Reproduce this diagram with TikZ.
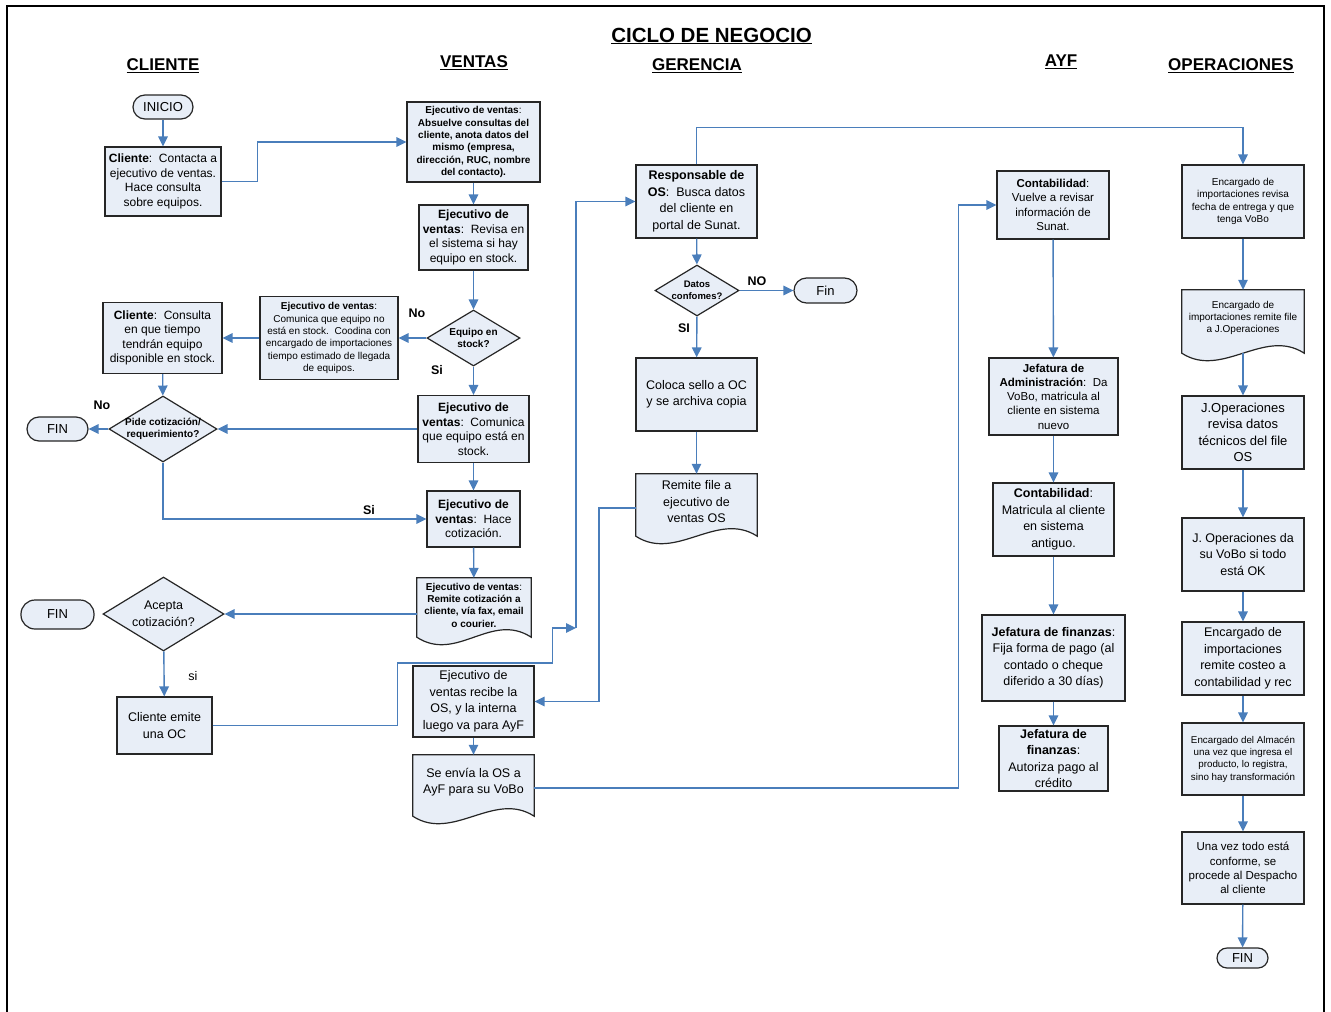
\documentclass[tikz,border=0pt]{standalone}
\usepackage{fontspec}
\setmainfont{Liberation Sans}
\usetikzlibrary{shapes.geometric,arrows.meta,backgrounds}
\definecolor{fillc}{RGB}{232,238,247}
\definecolor{boxc}{RGB}{38,38,38}
\definecolor{arrc}{RGB}{74,126,187}
\tikzset{
  fA/.style={font=\fontsize{12}{14.5}\selectfont},
  fB/.style={font=\fontsize{12.5}{16.5}\selectfont},
  fC/.style={font=\fontsize{11.5}{14.3}\selectfont},
  fS/.style={font=\fontsize{10}{12.3}\selectfont},
  fSb/.style={font=\fontsize{10}{12.3}\selectfont\bfseries},
  sz/.style 2 args={minimum width=#1, minimum height=#2},
  box/.style={draw=boxc, fill=fillc, line width=1.2pt, align=center, inner sep=1pt},
  term/.style={box, rounded corners=#1},
  docn/.style={align=center, inner sep=1pt},
  docline/.style={draw=boxc, fill=fillc, line width=1.2pt},
  dia/.style={draw=boxc, fill=fillc, line width=1.2pt, shape=diamond, inner sep=0pt},
  dtext/.style={align=center, inner sep=0pt},
  conn/.style={draw=arrc, line width=1.4pt, -{Triangle[length=10pt,width=9.5pt]}},
  lbl/.style={font=\fontsize{12.5}{14}\selectfont\bfseries, inner sep=0pt},
  lbl2/.style={font=\fontsize{12.5}{14}\selectfont, inner sep=0pt},
  head/.style={font=\fontsize{17}{20}\selectfont\bfseries, inner sep=0pt}
}
\begin{document}
\begin{tikzpicture}[x=1pt,y=-1pt]
\useasboundingbox (0,0) rectangle (1331,1012);
\begin{pgfonlayer}{background}
\fill[white] (0,0) rectangle (1331,1012);
\end{pgfonlayer}
\draw[line width=2.5pt, black] (7,1012) -- (7,6) -- (1324,6) -- (1324,1012);

% titles
\node[font=\fontsize{20.5}{24}\selectfont\bfseries, inner sep=0pt] (title) at (711.5,36) {\underline{CICLO DE NEGOCIO}};
\node[head] (hcli) at (163,66) {\underline{CLIENTE}};
\node[head] (hven) at (474,63) {\underline{VENTAS}};
\node[head] (hger) at (697,66) {\underline{GERENCIA}};
\node[head] (hayf) at (1061,62) {\underline{AYF}};
\node[head] (hops) at (1231,66) {\underline{OPERACIONES}};

% CLIENTE / VENTAS
\node[term=12pt, sz={60}{24}, font=\fontsize{13}{15}\selectfont] (inicio) at (163,107) {INICIO};
\node[box, sz={116}{69}, fA] (c1) at (163,181.5) {\textbf{Cliente}:\ \ Contacta a\\ejecutivo de ventas.\\Hace consulta\\sobre equipos.};
\node[box, sz={133}{80}, fS] (absuelve) at (473.5,142) {\textbf{Ejecutivo de ventas}:\\\textbf{Absuelve consultas del}\\\textbf{cliente, anota datos del}\\\textbf{mismo (empresa,}\\\textbf{dirección, RUC, nombre}\\\textbf{del contacto).}};
\node[box, sz={109}{65}, fA] (revisa) at (473.5,237.5) {\textbf{Ejecutivo de}\\\textbf{ventas}:\ \ Revisa en\\el sistema si hay\\equipo en stock.};
\node[dia, sz={93}{56}] (dEq) at (473.5,338) {};
\node[dtext, fSb] (dEqT) at (dEq.center) {Equipo en\\stock?};
\node[box, sz={138}{83}, fS] (nostock) at (329,338) {\textbf{Ejecutivo de ventas}:\\Comunica que equipo no\\está en stock.\ \ Coodina con\\encargado de importaciones\\tiempo estimado de llegada\\de equipos.};
\node[box, sz={119}{71}, fA] (consulta) at (162.5,338) {\textbf{Cliente}:\ \ Consulta\\en que tiempo\\tendrán equipo\\disponible en stock.};
\node[dia, sz={108}{66}] (dPide) at (163,429) {};
\node[dtext, fSb] (dPideT) at (dPide.center) {Pide cotización/\\requerimiento?};
\node[term=12pt, sz={61}{24}, font=\fontsize{13}{15}\selectfont] (fin1) at (57.5,429) {FIN};
\node[box, sz={111}{67}, fA] (enstock) at (473.5,429) {\textbf{Ejecutivo de}\\\textbf{ventas}:\ \ Comunica\\que equipo está en\\stock.};
\node[box, sz={93}{56}, fA] (hace) at (473.5,519) {\textbf{Ejecutivo de}\\\textbf{ventas}:\ \ Hace\\cotización.};
\node[docn, sz={114}{54}, fS] (remcot) at (474,605) {\textbf{Ejecutivo de ventas}:\\\textbf{Remite cotización a}\\\textbf{cliente, vía fax, email}\\\textbf{o courier.}};
\node[dia, sz={121}{74}] (dAcep) at (163.5,614) {};
\node[dtext, fB] (dAcepT) at (dAcep.center) {Acepta\\cotización?};
\node[term=14pt, sz={73}{29}, font=\fontsize{13}{15}\selectfont] (fin2) at (57.5,614.5) {FIN};
\node[box, sz={95}{57}, fB] (emite) at (164.5,725.5) {Cliente emite\\una OC};
\node[box, sz={121}{71}, fB] (recibe) at (473.5,701.5) {Ejecutivo de\\ventas recibe la\\OS, y la interna\\luego va para AyF};
\node[docn, sz={121}{54}, fB] (envia) at (473.5,782) {Se envía la OS a\\AyF para su VoBo};

% GERENCIA
\node[box, sz={121}{73}, fB] (resp) at (696.5,201.5) {\textbf{Responsable de}\\\textbf{OS}:\ \ Busca datos\\del cliente en\\portal de Sunat.};
\node[dia, sz={84}{51}] (dDat) at (697,290.5) {};
\node[dtext, font=\fontsize{9.5}{12.5}\selectfont\bfseries] (dDatT) at (dDat.center) {Datos\\confomes?};
\node[term=12.5pt, sz={63}{25}, font=\fontsize{13}{15}\selectfont] (fin3) at (825.5,290.5) {Fin};
\node[box, sz={121}{73}, fB] (sello) at (696.5,394.5) {Coloca sello a OC\\y se archiva copia};
\node[docn, sz={121}{56}, fB] (remfile) at (696.5,502) {Remite file a\\ejecutivo de\\ventas OS};

% AYF
\node[box, sz={112}{68}, fC] (contab1) at (1053,205) {\textbf{Contabilidad}:\\Vuelve a revisar\\información de\\Sunat.};
\node[box, sz={129}{77}, fC] (jadm) at (1053.5,396.5) {\textbf{Jefatura de}\\\textbf{Administración}:\ \ Da\\VoBo, matricula al\\cliente en sistema\\nuevo};
\node[box, sz={121}{73}, fB] (contab2) at (1053.5,519.5) {\textbf{Contabilidad}:\\Matricula al cliente\\en sistema\\antiguo.};
\node[box, sz={143}{86}, fB] (jfin1) at (1053.5,658) {\textbf{Jefatura de finanzas}:\\Fija forma de pago (al\\contado o cheque\\diferido a 30 días)};
\node[box, sz={109}{65}, fB] (jfin2) at (1053.5,758.5) {\textbf{Jefatura de}\\\textbf{finanzas}:\\Autoriza pago al\\crédito};

% OPERACIONES
\node[box, sz={122}{73}, fS] (ops1) at (1243,201.5) {Encargado de\\importaciones revisa\\fecha de entrega y que\\tenga VoBo};
\node[docn, sz={122}{56}, fS] (ops2) at (1243,318) {Encargado de\\importaciones remite file\\a J.Operaciones};
\node[box, sz={122}{73}, font=\fontsize{13}{16.5}\selectfont] (ops3) at (1243,432.5) {J.Operaciones\\revisa datos\\técnicos del file\\OS};
\node[box, sz={122}{73}, fB] (ops4) at (1243,554.5) {J. Operaciones da\\su VoBo si todo\\está OK};
\node[box, sz={122}{73}, fB] (ops5) at (1243,658.5) {Encargado de\\importaciones\\remite costeo a\\contabilidad y rec};
\node[box, sz={122}{72}, font=\fontsize{9.8}{12.3}\selectfont] (ops6) at (1243,759) {Encargado del Almacén\\una vez que ingresa el\\producto, lo registra,\\sino hay transformación};
\node[box, sz={122}{72}, fC] (ops7) at (1243,868) {Una vez todo está\\conforme, se\\procede al Despacho\\al cliente};
\node[term=10pt, sz={51}{20}, font=\fontsize{13}{15}\selectfont] (fin4) at (1242.5,958) {FIN};

% document shapes: body extended below the text area, wavy bottom
\begin{pgfonlayer}{background}
\foreach \n/\e in {remcot/5,envia/7,remfile/6,ops2/7}{
  \draw[docline] (\n.north west) -- (\n.north east) -- ([yshift=-\e pt]\n.south east)
    .. controls +(-40,-26) and +(40,26) .. ([yshift=-\e pt]\n.south west) -- cycle;
}
\end{pgfonlayer}

% connectors
\draw[conn] (inicio) -- (c1);
\draw[conn] (c1.east) -- ++(36,0) |- (absuelve.west);
\draw[conn] (absuelve) -- (revisa);
\draw[conn] (revisa) -- (dEq);
\draw[conn] (dEq) -- (nostock);
\draw[conn] (nostock) -- (consulta);
\draw[conn] (consulta) -- (dPide);
\draw[conn] (dPide) -- (fin1);
\draw[conn] (dEq) -- (enstock);
\draw[conn] (enstock.west) -- (dPide.east);
\draw[conn] (enstock) -- (hace);
\draw[conn] (dPide.south) |- (hace.west);
\draw[conn] (hace) -- (remcot);
\draw[conn] (remcot.west |- dAcep.east) -- (dAcep.east);
\draw[conn] (dAcep) -- (emite);
\coordinate (j1) at (576,628);
\draw[conn] (emite.east) -- ++(185,0) -- ++(0,-62.5) -- ++(155,0) -- ++(0,-35) -- (j1);
\draw[conn] (j1) |- (resp.west);
\draw[conn] (resp) -- (dDat);
\draw[conn] (dDat) -- (fin3);
\draw[conn] (dDat) -- (sello);
\draw[conn] (sello) -- (remfile);
\draw[conn] ([yshift=-6pt]remfile.west) -- ++(-37,0) |- (recibe.east);
\draw[conn] (resp.north) -- ++(0,-37) -| (ops1.north);
\draw[conn] (recibe) -- (envia);
\draw[conn] ([yshift=-6pt]envia.east) -- ++(424,0) |- (contab1.west);
\draw[conn] (contab1) -- (jadm);
\draw[conn] (jadm) -- (contab2);
\draw[conn] (contab2) -- (jfin1);
\draw[conn] (jfin1) -- (jfin2);
\draw[conn] (ops1) -- (ops2);
\draw[conn] ([yshift=-7pt]ops2.south) -- (ops3);
\draw[conn] (ops3) -- (ops4);
\draw[conn] (ops4) -- (ops5);
\draw[conn] (ops5) -- (ops6);
\draw[conn] (ops6) -- (ops7);
\draw[conn] (ops7) -- (fin4);

% labels
\node[lbl] (lNo1) at (417,313) {No};
\node[lbl] (lSi1) at (437,370) {Si};
\node[lbl] (lNo2) at (102,405) {No};
\node[lbl] (lSi2) at (369,510) {Si};
\node[lbl2] (lsi3) at (193,676) {si};
\node[lbl] (lNO) at (757,281) {NO};
\node[lbl] (lSI) at (684,328) {SI};
\end{tikzpicture}
\end{document}
